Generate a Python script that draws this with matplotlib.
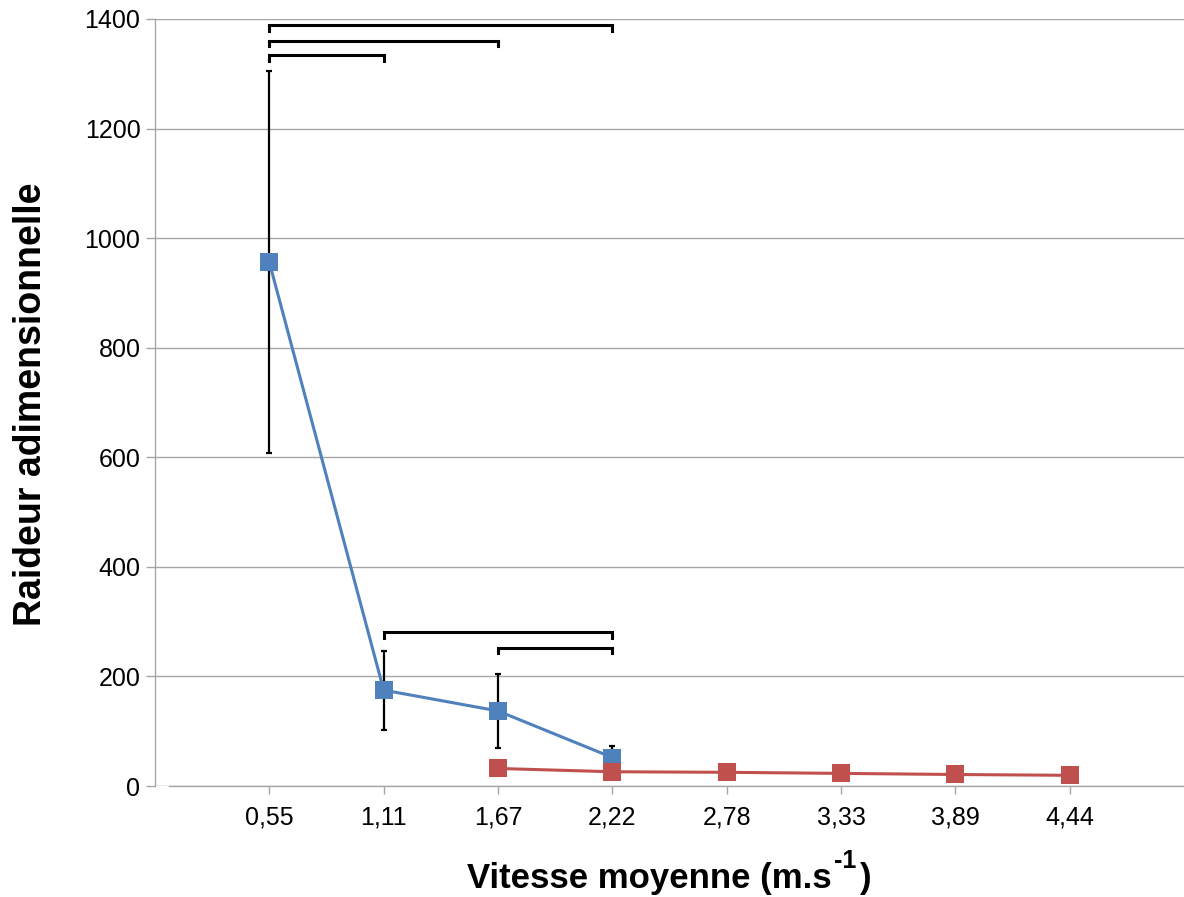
import matplotlib
matplotlib.use("Agg")
import matplotlib.pyplot as plt

plt.rcParams['font.family'] = ['Liberation Sans', 'DejaVu Sans']

# Categories (mean speed, m/s)
speeds = ["0,55", "1,11", "1,67", "2,22", "2,78", "3,33", "3,89", "4,44"]

# Walking series
walk_idx = [0, 1, 2, 3]
walk_vals = [956, 175, 137, 52]
walk_err = [349, 72, 67, 21]

# Running series
run_idx = [2, 3, 4, 5, 6, 7]
run_vals = [32, 26, 25, 23, 21, 19.5]

# Significance brackets: (start index, end index, height)
brackets = [(0, 3, 1389), (0, 2, 1360), (0, 1, 1334), (1, 3, 281), (2, 3, 252)]

blue = "#4F81BD"
red = "#C0504D"
grid_col = "#A6A6A6"

fig = plt.figure(figsize=(11.84, 8.97), dpi=100)
ax = fig.add_axes([155 / 1184, 111 / 897, 1029 / 1184, 767 / 897])

pos = list(range(1, len(speeds) + 1))

wx = [pos[i] for i in walk_idx]
rx = [pos[i] for i in run_idx]

ax.errorbar(wx, walk_vals, yerr=walk_err, fmt='none', ecolor='black',
            elinewidth=1.6, capsize=2.5, capthick=1.6, zorder=3)
ax.plot(wx, walk_vals, color=blue, lw=2.2, marker='s', markersize=12.8,
        markeredgewidth=0, zorder=4)
ax.plot(rx, run_vals, color=red, lw=2.2, marker='s', markersize=12.8,
        markeredgewidth=0, zorder=5)

tick_h = 10
for a, b, h in brackets:
    x0, x1 = pos[a], pos[b]
    ax.plot([x0, x0, x1, x1], [h - tick_h, h, h, h - tick_h], color='black',
            lw=2.2, solid_joinstyle='miter', zorder=3)

ax.set_xlim(0, 9)
ax.set_ylim(0, 1400)
ax.set_yticks(range(0, 1401, 200))
ax.set_xticks(pos)
ax.set_xticklabels(speeds)

ax.yaxis.grid(True, color=grid_col, lw=1.0, zorder=0)
ax.set_axisbelow(True)

for s in ['top', 'right']:
    ax.spines[s].set_visible(False)
ax.spines['left'].set_color(grid_col)
ax.spines['bottom'].set_color(grid_col)
ax.spines['left'].set_linewidth(1.0)
ax.spines['bottom'].set_linewidth(1.0)
ax.spines['bottom'].set_bounds(0.12, 9)

ax.tick_params(axis='both', colors=grid_col, labelcolor='black', labelsize=18,
               width=1.0, direction='out')
ax.tick_params(axis='x', pad=8, length=6)
ax.tick_params(axis='y', pad=4, length=6.5)

# y-axis title
ax.set_ylabel("Raideur adimensionnelle", fontsize=27, fontweight='bold')
ax.yaxis.set_label_coords(-(155 - 49) / 1029, (786 - 404) / 767)

# x-axis title with a small raised "-1"
t1 = fig.text(467 / 1184, (897 - 888) / 897, "Vitesse moyenne (m.s",
              fontsize=25, fontweight='bold', ha='left', va='baseline')
t2 = ax.annotate("-1", xy=(1.0, 0.68), xycoords=t1, xytext=(1.5, 0),
                 textcoords='offset points', fontsize=18,
                 fontweight='bold', ha='left', va='bottom',
                 annotation_clip=False)
t3 = ax.annotate(")", xy=(1.0, 0.0), xycoords=(t2, t1), xytext=(2.5, 0),
                 textcoords='offset points', fontsize=25,
                 fontweight='bold', ha='left', va='bottom',
                 annotation_clip=False)

fig.savefig("out.png", dpi=100)
